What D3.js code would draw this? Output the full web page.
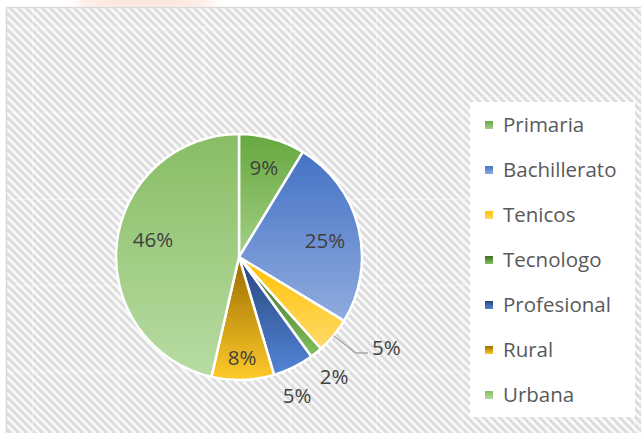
<!DOCTYPE html>
<html>
<head>
<meta charset="utf-8">
<script src="https://cdn.jsdelivr.net/npm/d3@7"></script>
<style>
  body { margin: 0; background: #fff; }
  svg { display: block; }
</style>
</head>
<body>
<div id="chart"></div>
<script>
const width = 641;
const height = 433;

// data (share of total, %)
const categories = ["Primaria", "Bachillerato", "Tenicos", "Tecnologo", "Profesional", "Rural", "Urbana"];
const shares = [8.7, 25.0, 4.7, 1.6, 5.4, 8.2, 46.4];
const labels = ["9%", "25%", "5%", "2%", "5%", "8%", "46%"];

// gradient stops, top -> bottom
const gradTop = ["#66a83e", "#4472c4", "#ffc000", "#42692a", "#27467c", "#9a6c00", "#88bd64"];
const gradBottom = ["#a3cf86", "#90acdf", "#ffda6b", "#7fc159", "#5384d6", "#ffca2a", "#b8dca3"];

const cx = 239, cy = 257, radius = 123;

let svg = d3.select("#chart")
            .append("svg")
            .attr("width", width)
            .attr("height", height);

const defs = svg.append("defs");

// hatched background
const hatch = defs.append("pattern")
                  .attr("id", "hatch")
                  .attr("patternUnits", "userSpaceOnUse")
                  .attr("width", 5.66)
                  .attr("height", 5.66)
                  .attr("patternTransform", "rotate(-45)");
hatch.append("rect").attr("width", 5.66).attr("height", 5.66).attr("fill", "#fafafa");
hatch.append("rect").attr("width", 2.9).attr("height", 5.66).attr("fill", "#dcdcdc");

categories.forEach((c, i) => {
  const g = defs.append("linearGradient")
                .attr("id", "grad" + i)
                .attr("x1", 0).attr("y1", 0)
                .attr("x2", 0).attr("y2", 1);
  g.append("stop").attr("offset", "0%").attr("stop-color", gradTop[i]);
  g.append("stop").attr("offset", "100%").attr("stop-color", gradBottom[i]);
});

defs.append("filter").attr("id", "blur")
    .append("feGaussianBlur").attr("stdDeviation", 4);

// faint watermark at the very top
svg.append("ellipse")
   .attr("cx", 145).attr("cy", 2)
   .attr("rx", 70).attr("ry", 7)
   .attr("fill", "#f9c9b8")
   .attr("opacity", 0.5)
   .attr("filter", "url(#blur)");

// chart area
svg.append("rect")
   .attr("x", 6.5).attr("y", 7.5)
   .attr("width", width).attr("height", height)
   .attr("fill", "url(#hatch)")
   .attr("stroke", "#d9d9d9")
   .attr("stroke-width", 1.5);

// tiling seams of the background
const seams = svg.append("g").attr("stroke", "#ffffff").attr("stroke-opacity", 0.4);
d3.range(32, width, 86).forEach(x => {
  seams.append("line").attr("x1", x + 0.5).attr("x2", x + 0.5).attr("y1", 8).attr("y2", height);
});
d3.range(27, height, 86).forEach(y => {
  seams.append("line").attr("y1", y + 0.5).attr("y2", y + 0.5).attr("x1", 7).attr("x2", width);
});

// pie
const pie = d3.pie().sort(null).value(d => d);
const arcs = pie(shares);
const arc = d3.arc().innerRadius(0).outerRadius(radius);

const pieG = svg.append("g").attr("transform", `translate(${cx},${cy})`);

pieG.selectAll("path.slice")
    .data(arcs)
    .enter()
    .append("path")
    .attr("class", "slice")
    .attr("d", arc)
    .attr("fill", (d, i) => `url(#grad${i})`)
    .attr("stroke", "#ffffff")
    .attr("stroke-width", 2.5)
    .attr("stroke-linejoin", "round");

// label placement: centroid on a radius factor, some labels nudged like Excel's "best fit"
const labelRadius = [0.75, 0.72, null, null, null, 0.82, 0.72];
const fixedPos = { 1: [86, -16], 2: [133, 91], 3: [95, 120], 4: [58, 139], 6: [-86, -17] };

pieG.selectAll("text.lbl")
    .data(arcs)
    .enter()
    .append("text")
    .attr("class", "lbl")
    .attr("transform", (d, i) => {
      if (fixedPos[i]) return `translate(${fixedPos[i][0]},${fixedPos[i][1]})`;
      const r = radius * labelRadius[i];
      const a = (d.startAngle + d.endAngle) / 2;
      return `translate(${Math.sin(a) * r},${-Math.cos(a) * r})`;
    })
    .attr("text-anchor", (d, i) => i === 2 ? "start" : "middle")
    .attr("dy", "0.35em")
    .attr("font-family", "'Open Sans', sans-serif")
    .attr("font-size", 20.5)
    .attr("fill", "#404040")
    .text((d, i) => labels[i]);

// leader line for Tenicos
{
  const d = arcs[2];
  const a = (d.startAngle + d.endAngle) / 2;
  const p0 = [Math.sin(a) * radius, -Math.cos(a) * radius];
  pieG.append("polyline")
      .attr("points", `${p0[0]},${p0[1]} 117,96 129,96`)
      .attr("fill", "none")
      .attr("stroke", "#a6a6a6")
      .attr("stroke-width", 1.3);
}

// legend
const legend = svg.append("g").attr("id", "legend");
legend.append("rect")
      .attr("x", 470).attr("y", 102)
      .attr("width", 165).attr("height", 315)
      .attr("fill", "#ffffff");

const legendY = d3.scalePoint()
                  .domain(categories)
                  .range([125, 395]);

const items = legend.selectAll("g.item")
                    .data(categories)
                    .enter()
                    .append("g")
                    .attr("class", "item")
                    .attr("transform", c => `translate(485,${legendY(c)})`);

items.append("rect")
     .attr("x", 0).attr("y", -4)
     .attr("width", 8).attr("height", 8)
     .attr("fill", (c, i) => `url(#grad${i})`);

items.append("text")
     .attr("x", 18)
     .attr("dy", "0.35em")
     .attr("font-family", "'Open Sans', sans-serif")
     .attr("font-size", 20.5)
     .attr("fill", "#595959")
     .text(c => c);
</script>
</body>
</html>
